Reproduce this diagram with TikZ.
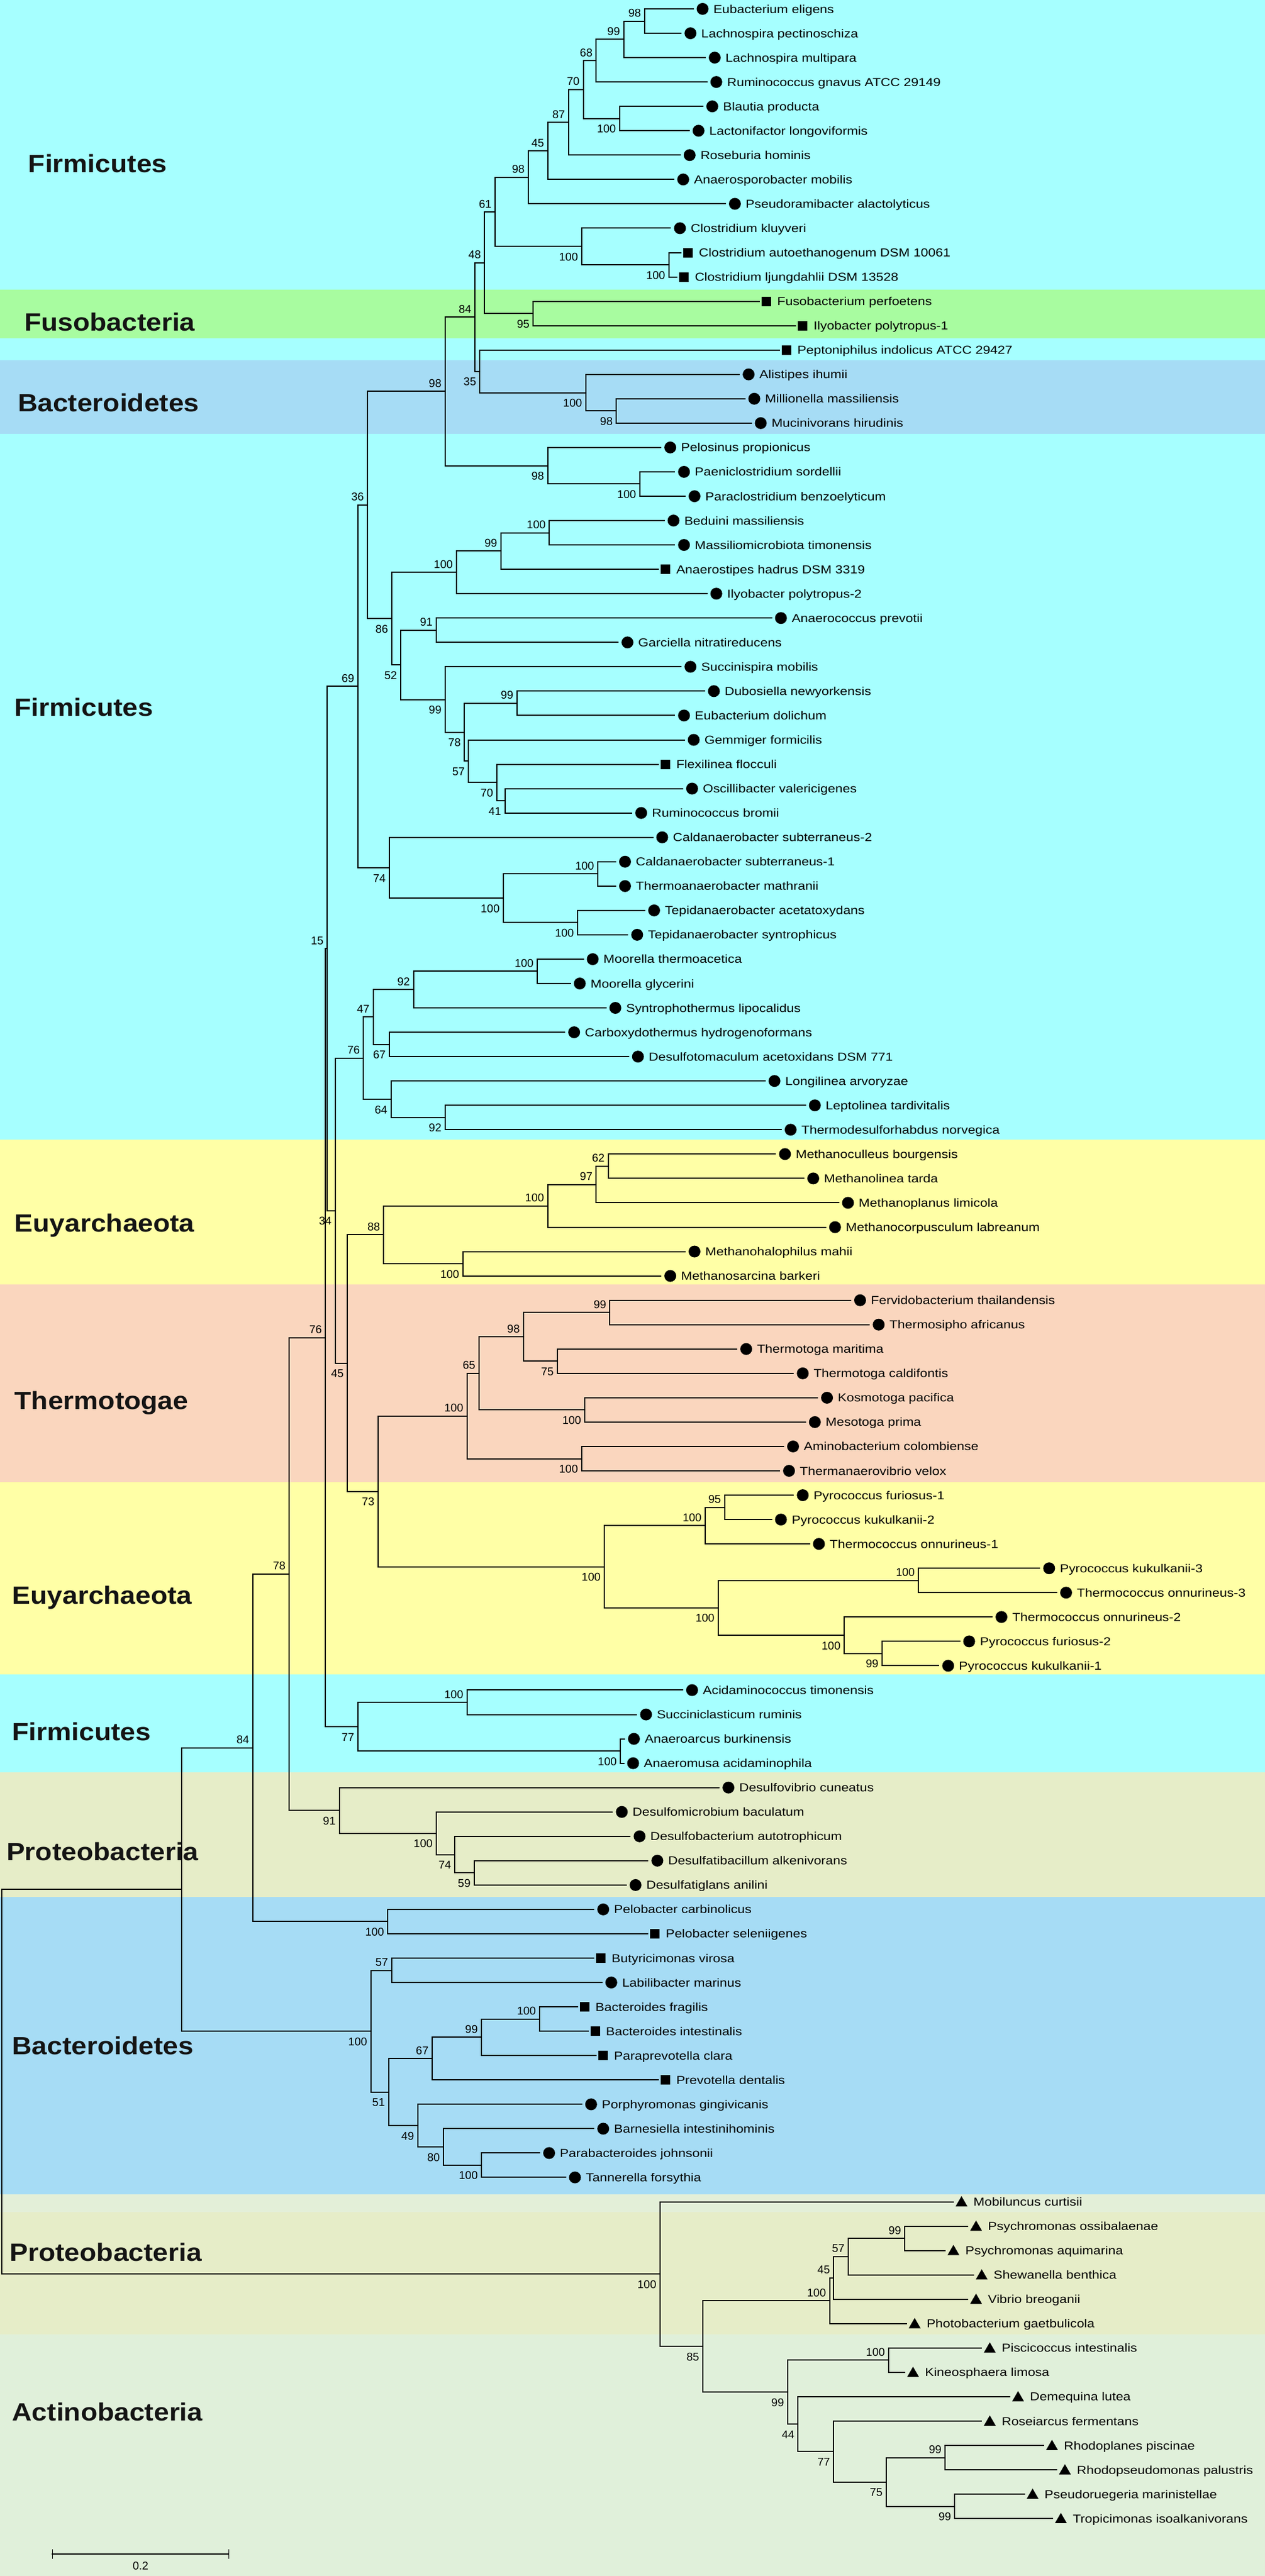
\documentclass[tikz,border=0pt]{standalone}
\usepackage{fontspec}
\setmainfont{Liberation Sans}
\newfontfamily\leaffont[FakeStretch=1.15]{Liberation Sans}
\newfontfamily\phyfont[FakeStretch=1.1]{Liberation Sans}
\usetikzlibrary{calc,shapes.geometric}
\definecolor{bgcyan}{HTML}{A6FFFF}
\definecolor{bggreen}{HTML}{A8FCA0}
\definecolor{bgblue}{HTML}{A6DCF5}
\definecolor{bgyellow}{HTML}{FFFFA6}
\definecolor{bgsalmon}{HTML}{FAD6BE}
\definecolor{bgkhaki}{HTML}{E6EDC8}
\definecolor{bgpale}{HTML}{E3EFD8}
\definecolor{bgactino}{HTML}{E0F0DA}
\newcommand\lc[4]{%
  \coordinate (#1) at (#3,{15+41.05*(#2-1)});
  \node[cmark] (#1m) at ([xshift=16pt]#1) {};
  \node[leaf] (#1t) at ([xshift=34pt,yshift=-7pt]#1) {#4};}
\newcommand\ls[4]{%
  \coordinate (#1) at (#3,{15+41.05*(#2-1)});
  \node[smark] (#1m) at ([xshift=12pt]#1) {};
  \node[leaf] (#1t) at ([xshift=30pt,yshift=-7pt]#1) {#4};}
\newcommand\lt[4]{%
  \coordinate (#1) at (#3,{15+41.05*(#2-1)});
  \node[tmark] (#1m) at ([xshift=14pt,yshift=-2pt]#1) {};
  \node[leaf] (#1t) at ([xshift=34pt,yshift=-7pt]#1) {#4};}
\newcommand\nd[4]{%
  \path ($(#3)!0.5!(#4)$) coordinate (#1mid);
  \coordinate (#1) at (#2,0 |- #1mid);
  \draw[br] (#1) |- (#3);
  \draw[br] (#1) |- (#4);}
\newcommand\ba[2]{\node[bs] (#1lab) at ([xshift=-6pt,yshift=7pt]#1) {#2};}
\newcommand\bb[2]{\node[bs] (#1lab) at ([xshift=-6pt,yshift=-24pt]#1) {#2};}
\newcommand\phy[4]{\node[phylum] (#1) at (#2,#3) {#4};}
\begin{document}
\begin{tikzpicture}[x=1.3608pt,y=-1pt,
  br/.style={line width=2pt,line cap=rect},
  cmark/.style={circle,fill=black,minimum size=20pt,inner sep=0pt},
  smark/.style={rectangle,fill=black,minimum size=16pt,inner sep=0pt},
  tmark/.style={regular polygon,regular polygon sides=3,fill=black,minimum size=23pt,inner sep=0pt},
  leaf/.style={anchor=base west,inner sep=0pt,font=\fontsize{19.5}{20}\leaffont},
  bs/.style={anchor=base east,inner sep=0pt,font=\fontsize{19}{20}\selectfont},
  phylum/.style={anchor=base west,inner sep=0pt,text=black!92,font=\fontsize{42}{44}\phyfont\bfseries}]
\useasboundingbox (0,0) rectangle (1566,4340);
% background bands
\fill[bgcyan] (0,0) rectangle (1566,488);
\fill[bggreen] (0,488) rectangle (1566,570);
\fill[bgcyan] (0,570) rectangle (1566,607);
\fill[bgblue] (0,607) rectangle (1566,731);
\fill[bgcyan] (0,731) rectangle (1566,1920);
\fill[bgyellow] (0,1920) rectangle (1566,2164);
\fill[bgsalmon] (0,2164) rectangle (1566,2497);
\fill[bgyellow] (0,2497) rectangle (1566,2821);
\fill[bgcyan] (0,2821) rectangle (1566,2986);
\fill[bgkhaki] (0,2986) rectangle (1566,3196);
\fill[bgblue] (0,3196) rectangle (1566,3697);
\fill[bgpale] (0,3697) rectangle (1566,3727);
\fill[bgkhaki] (0,3727) rectangle (1566,3933);
\fill[bgactino] (0,3933) rectangle (1566,4340);
% phylum labels
\phy{p1}{35}{290}{Firmicutes}
\phy{p2}{30}{557}{Fusobacteria}
\phy{p3}{22}{693}{Bacteroidetes}
\phy{p4}{18}{1206}{Firmicutes}
\phy{p5}{18}{2075}{Euyarchaeota}
\phy{p6}{18}{2374}{Thermotogae}
\phy{p7}{15}{2702}{Euyarchaeota}
\phy{p8}{15}{2932}{Firmicutes}
\phy{p9}{8}{3134}{Proteobacteria}
\phy{p10}{15}{3461}{Bacteroidetes}
\phy{p11}{12}{3809}{Proteobacteria}
\phy{p12}{15}{4078}{Actinobacteria}
% leaves
\lc{l1}{1}{858}{Eubacterium eligens}
\lc{l2}{2}{843}{Lachnospira pectinoschiza}
\lc{l3}{3}{873}{Lachnospira multipara}
\lc{l4}{4}{875}{Ruminococcus gnavus ATCC 29149}
\lc{l5}{5}{870}{Blautia producta}
\lc{l6}{6}{853}{Lactonifactor longoviformis}
\lc{l7}{7}{842}{Roseburia hominis}
\lc{l8}{8}{834}{Anaerosporobacter mobilis}
\lc{l9}{9}{898}{Pseudoramibacter alactolyticus}
\lc{l10}{10}{830}{Clostridium kluyveri}
\ls{l11}{11}{843}{Clostridium autoethanogenum DSM 10061}
\ls{l12}{12}{838}{Clostridium ljungdahlii DSM 13528}
\ls{l13}{13}{940}{Fusobacterium perfoetens}
\ls{l14}{14}{985}{Ilyobacter polytropus-1}
\ls{l15}{15}{965}{Peptoniphilus indolicus ATCC 29427}
\lc{l16}{16}{915}{Alistipes ihumii}
\lc{l17}{17}{922}{Millionella massiliensis}
\lc{l18}{18}{930}{Mucinivorans hirudinis}
\lc{l19}{19}{818}{Pelosinus propionicus}
\lc{l20}{20}{835}{Paeniclostridium sordellii}
\lc{l21}{21}{848}{Paraclostridium benzoelyticum}
\lc{l22}{22}{822}{Beduini massiliensis}
\lc{l23}{23}{835}{Massiliomicrobiota timonensis}
\ls{l24}{24}{815}{Anaerostipes hadrus DSM 3319}
\lc{l25}{25}{875}{Ilyobacter polytropus-2}
\lc{l26}{26}{955}{Anaerococcus prevotii}
\lc{l27}{27}{765}{Garciella nitratireducens}
\lc{l28}{28}{843}{Succinispira mobilis}
\lc{l29}{29}{872}{Dubosiella newyorkensis}
\lc{l30}{30}{835}{Eubacterium dolichum}
\lc{l31}{31}{847}{Gemmiger formicilis}
\ls{l32}{32}{815}{Flexilinea flocculi}
\lc{l33}{33}{845}{Oscillibacter valericigenes}
\lc{l34}{34}{782}{Ruminococcus bromii}
\lc{l35}{35}{808}{Caldanaerobacter subterraneus-2}
\lc{l36}{36}{762}{Caldanaerobacter subterraneus-1}
\lc{l37}{37}{762}{Thermoanaerobacter mathranii}
\lc{l38}{38}{798}{Tepidanaerobacter acetatoxydans}
\lc{l39}{39}{777}{Tepidanaerobacter syntrophicus}
\lc{l40}{40}{722}{Moorella thermoacetica}
\lc{l41}{41}{706}{Moorella glycerini}
\lc{l42}{42}{750}{Syntrophothermus lipocalidus}
\lc{l43}{43}{699}{Carboxydothermus hydrogenoformans}
\lc{l44}{44}{778}{Desulfotomaculum acetoxidans DSM 771}
\lc{l45}{45}{947}{Longilinea arvoryzae}
\lc{l46}{46}{997}{Leptolinea tardivitalis}
\lc{l47}{47}{967}{Thermodesulforhabdus norvegica}
\lc{l48}{48}{960}{Methanoculleus bourgensis}
\lc{l49}{49}{995}{Methanolinea tarda}
\lc{l50}{50}{1038}{Methanoplanus limicola}
\lc{l51}{51}{1022}{Methanocorpusculum labreanum}
\lc{l52}{52}{848}{Methanohalophilus mahii}
\lc{l53}{53}{818}{Methanosarcina barkeri}
\lc{l54}{54}{1053}{Fervidobacterium thailandensis}
\lc{l55}{55}{1076}{Thermosipho africanus}
\lc{l56}{56}{912}{Thermotoga maritima}
\lc{l57}{57}{982}{Thermotoga caldifontis}
\lc{l58}{58}{1012}{Kosmotoga pacifica}
\lc{l59}{59}{997}{Mesotoga prima}
\lc{l60}{60}{970}{Aminobacterium colombiense}
\lc{l61}{61}{965}{Thermanaerovibrio velox}
\lc{l62}{62}{982}{Pyrococcus furiosus-1}
\lc{l63}{63}{955}{Pyrococcus kukulkanii-2}
\lc{l64}{64}{1002}{Thermococcus onnurineus-1}
\lc{l65}{65}{1287}{Pyrococcus kukulkanii-3}
\lc{l66}{66}{1308}{Thermococcus onnurineus-3}
\lc{l67}{67}{1228}{Thermococcus onnurineus-2}
\lc{l68}{68}{1188}{Pyrococcus furiosus-2}
\lc{l69}{69}{1162}{Pyrococcus kukulkanii-1}
\lc{l70}{70}{845}{Acidaminococcus timonensis}
\lc{l71}{71}{788}{Succiniclasticum ruminis}
\lc{l72}{72}{773}{Anaeroarcus burkinensis}
\lc{l73}{73}{772}{Anaeromusa acidaminophila}
\lc{l74}{74}{890}{Desulfovibrio cuneatus}
\lc{l75}{75}{758}{Desulfomicrobium baculatum}
\lc{l76}{76}{780}{Desulfobacterium autotrophicum}
\lc{l77}{77}{802}{Desulfatibacillum alkenivorans}
\lc{l78}{78}{775}{Desulfatiglans anilini}
\lc{l79}{79}{735}{Pelobacter carbinolicus}
\ls{l80}{80}{802}{Pelobacter seleniigenes}
\ls{l81}{81}{735}{Butyricimonas virosa}
\lc{l82}{82}{745}{Labilibacter marinus}
\ls{l83}{83}{715}{Bacteroides fragilis}
\ls{l84}{84}{728}{Bacteroides intestinalis}
\ls{l85}{85}{738}{Paraprevotella clara}
\ls{l86}{86}{815}{Prevotella dentalis}
\lc{l87}{87}{720}{Porphyromonas gingivicanis}
\lc{l88}{88}{735}{Barnesiella intestinihominis}
\lc{l89}{89}{668}{Parabacteroides johnsonii}
\lc{l90}{90}{700}{Tannerella forsythia}
\lt{l91}{91}{1180}{Mobiluncus curtisii}
\lt{l92}{92}{1198}{Psychromonas ossibalaenae}
\lt{l93}{93}{1170}{Psychromonas aquimarina}
\lt{l94}{94}{1205}{Shewanella benthica}
\lt{l95}{95}{1198}{Vibrio breoganii}
\lt{l96}{96}{1122}{Photobacterium gaetbulicola}
\lt{l97}{97}{1215}{Piscicoccus intestinalis}
\lt{l98}{98}{1120}{Kineosphaera limosa}
\lt{l99}{99}{1250}{Demequina lutea}
\lt{l100}{100}{1215}{Roseiarcus fermentans}
\lt{l101}{101}{1292}{Rhodoplanes piscinae}
\lt{l102}{102}{1308}{Rhodopseudomonas palustris}
\lt{l103}{103}{1268}{Pseudoruegeria marinistellae}
\lt{l104}{104}{1303}{Tropicimonas isoalkanivorans}
% internal nodes
\nd{nA}{798}{l1}{l2}\ba{nA}{98}
\nd{nB}{772}{nA}{l3}\ba{nB}{99}
\nd{nC}{738}{nB}{l4}\ba{nC}{68}
\nd{nBL}{767}{l5}{l6}\bb{nBL}{100}
\nd{nD}{722}{nC}{nBL}\ba{nD}{70}
\nd{nE}{704}{nD}{l7}\ba{nE}{87}
\nd{nF}{678}{nE}{l8}\ba{nF}{45}
\nd{nG}{654}{nF}{l9}\ba{nG}{98}
\nd{nJ}{828}{l11}{l12}\bb{nJ}{100}
\nd{nI}{720}{l10}{nJ}\bb{nI}{100}
\nd{nH}{613}{nG}{nI}\ba{nH}{61}
\nd{nL}{660}{l13}{l14}\bb{nL}{95}
\nd{nK}{600}{nH}{nL}\ba{nK}{48}
\nd{nO}{763}{l17}{l18}\bb{nO}{98}
\nd{nP}{725}{l16}{nO}\bb{nP}{100}
\nd{nN}{594}{l15}{nP}\bb{nN}{35}
\nd{nM}{588}{nK}{nN}\ba{nM}{84}
\nd{nS}{792}{l20}{l21}\bb{nS}{100}
\nd{nR}{678}{l19}{nS}\bb{nR}{98}
\nd{nQ}{551}{nM}{nR}\ba{nQ}{98}
\nd{nX}{680}{l22}{l23}\ba{nX}{100}
\nd{nW}{620}{nX}{l24}\ba{nW}{99}
\nd{nV}{565}{nW}{l25}\ba{nV}{100}
\nd{nY}{540}{l26}{l27}\ba{nY}{91}
\nd{nAB}{640}{l29}{l30}\ba{nAB}{99}
\nd{nAF}{625}{l33}{l34}\bb{nAF}{41}
\nd{nAE}{615}{l32}{nAF}\bb{nAE}{70}
\nd{nAD}{580}{l31}{nAE}\bb{nAD}{57}
\nd{nAC}{575}{nAB}{nAD}\bb{nAC}{78}
\nd{nAA}{551}{l28}{nAC}\bb{nAA}{99}
\nd{nZ}{496}{nY}{nAA}\bb{nZ}{52}
\nd{nU}{485}{nV}{nZ}\bb{nU}{86}
\nd{nT}{455}{nQ}{nU}\ba{nT}{36}
\nd{nAI}{740}{l36}{l37}\ba{nAI}{100}
\nd{nAJ}{715}{l38}{l39}\bb{nAJ}{100}
\nd{nAH}{623}{nAI}{nAJ}\bb{nAH}{100}
\nd{nAG}{482}{l35}{nAH}\bb{nAG}{74}
\nd{nAK}{443}{nT}{nAG}\ba{nAK}{69}
\nd{nBA}{665}{l40}{l41}\ba{nBA}{100}
\nd{nBB}{512}{nBA}{l42}\ba{nBB}{92}
\nd{nBC}{482}{l43}{l44}\bb{nBC}{67}
\nd{nBD}{462}{nBB}{nBC}\ba{nBD}{47}
\nd{nBE}{551}{l46}{l47}\bb{nBE}{92}
\nd{nBF}{484}{l45}{nBE}\bb{nBF}{64}
\nd{nBG}{450}{nBD}{nBF}\ba{nBG}{76}
\nd{nCA}{753}{l48}{l49}\ba{nCA}{62}
\nd{nCB}{738}{nCA}{l50}\ba{nCB}{97}
\nd{nCC}{678}{nCB}{l51}\ba{nCC}{100}
\nd{nCD}{573}{l52}{l53}\bb{nCD}{100}
\nd{nCE}{475}{nCC}{nCD}\ba{nCE}{88}
\nd{nDA}{755}{l54}{l55}\ba{nDA}{99}
\nd{nDB}{690}{l56}{l57}\bb{nDB}{75}
\nd{nDC}{648}{nDA}{nDB}\ba{nDC}{98}
\nd{nDD}{724}{l58}{l59}\bb{nDD}{100}
\nd{nDE}{593}{nDC}{nDD}\ba{nDE}{65}
\nd{nDF}{720}{l60}{l61}\bb{nDF}{100}
\nd{nDG}{578}{nDE}{nDF}\ba{nDG}{100}
\nd{nEA}{897}{l62}{l63}\ba{nEA}{95}
\nd{nEB}{873}{nEA}{l64}\ba{nEB}{100}
\nd{nEC}{1137}{l65}{l66}\ba{nEC}{100}
\nd{nED}{1092}{l68}{l69}\bb{nED}{99}
\nd{nEE}{1045}{l67}{nED}\bb{nEE}{100}
\nd{nEF}{889}{nEC}{nEE}\bb{nEF}{100}
\nd{nEG}{748}{nEB}{nEF}\bb{nEG}{100}
\nd{nCH}{468}{nDG}{nEG}\bb{nCH}{73}
\nd{nCG}{430}{nCE}{nCH}\bb{nCG}{45}
\nd{nCF}{415}{nBG}{nCG}\bb{nCF}{34}
\nd{nRa}{405}{nAK}{nCF}\ba{nRa}{15}
\nd{nFA}{578}{l70}{l71}\ba{nFA}{100}
\nd{nFB}{768}{l72}{l73}\bb{nFB}{100}
\nd{nFC}{443}{nFA}{nFB}\bb{nFC}{77}
\nd{nRb}{403}{nRa}{nFC}\ba{nRb}{76}
\nd{nGA}{587}{l77}{l78}\bb{nGA}{59}
\nd{nGB}{563}{l76}{nGA}\bb{nGB}{74}
\nd{nGC}{540}{l75}{nGB}\bb{nGC}{100}
\nd{nGD}{420}{l74}{nGC}\bb{nGD}{91}
\nd{nRc}{358}{nRb}{nGD}\ba{nRc}{78}
\nd{nHA}{480}{l79}{l80}\bb{nHA}{100}
\nd{nRd}{313}{nRc}{nHA}\ba{nRd}{84}
\nd{nIA}{485}{l81}{l82}\ba{nIA}{57}
\nd{nIB}{668}{l83}{l84}\ba{nIB}{100}
\nd{nIC}{596}{nIB}{l85}\ba{nIC}{99}
\nd{nID}{535}{nIC}{l86}\ba{nID}{67}
\nd{nIE}{596}{l89}{l90}\bb{nIE}{100}
\nd{nIF}{549}{l88}{nIE}\bb{nIF}{80}
\nd{nIG}{517}{l87}{nIF}\bb{nIG}{49}
\nd{nIH}{481}{nID}{nIG}\bb{nIH}{51}
\nd{nII}{459}{nIA}{nIH}\bb{nII}{100}
\nd{nJA}{225}{nRd}{nII}
\nd{nKA}{1120}{l92}{l93}\ba{nKA}{99}
\nd{nKB}{1050}{nKA}{l94}\ba{nKB}{57}
\nd{nKC}{1032}{nKB}{l95}\ba{nKC}{45}
\nd{nKD}{1027}{nKC}{l96}\ba{nKD}{100}
\nd{nKE}{1100}{l97}{l98}\ba{nKE}{100}
\nd{nKF}{1170}{l101}{l102}\ba{nKF}{99}
\nd{nKG}{1182}{l103}{l104}\bb{nKG}{99}
\nd{nKH}{1097}{nKF}{nKG}\bb{nKH}{75}
\nd{nKI}{1032}{l100}{nKH}\bb{nKI}{77}
\nd{nKJ}{988}{l99}{nKI}\bb{nKJ}{44}
\nd{nKK}{975}{nKE}{nKJ}\bb{nKK}{99}
\nd{nKL}{870}{nKD}{nKK}\bb{nKL}{85}
\nd{nKM}{817}{l91}{nKL}\bb{nKM}{100}
\nd{root}{2}{nJA}{nKM}
% scale bar
\coordinate (sbA) at (65,4303);
\coordinate (sbB) at (283,4303);
\draw[br] (sbA) -- (sbB);
\draw[line width=1.2pt] ([yshift=8pt]sbA) -- ([yshift=-8pt]sbA);
\draw[line width=1.2pt] ([yshift=8pt]sbB) -- ([yshift=-8pt]sbB);
\node[anchor=base,inner sep=0pt,font=\fontsize{19}{20}\selectfont] (sbl) at (174,4329) {0.2};
\end{tikzpicture}
\end{document}
